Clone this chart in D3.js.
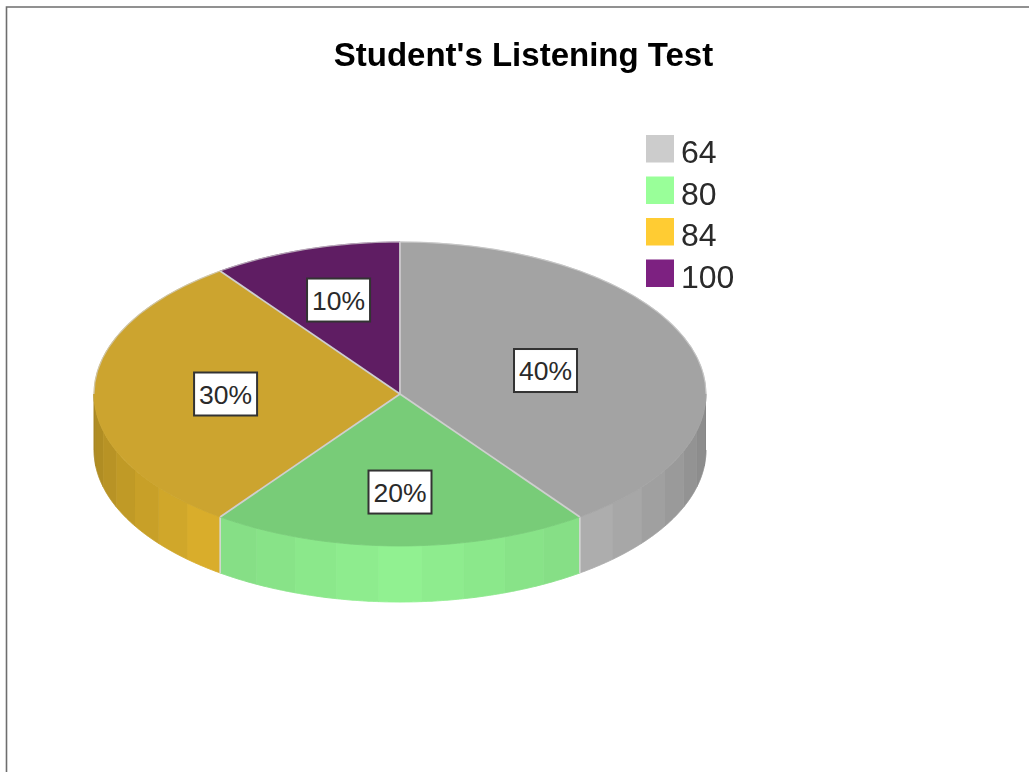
<!DOCTYPE html>
<html><head><meta charset="utf-8">
<script src="https://cdn.jsdelivr.net/npm/d3@7"></script>
<style>html,body{margin:0;padding:0;background:#fff}svg{display:block}text{font-family:"Liberation Sans",Arial,sans-serif}</style>
</head><body><svg id="c" width="1029" height="772"></svg>
<script>
const categories = ["64","80","84","100"];
const shares = [40,20,30,10];
const baseColors = ["#cccccc","#99ff99","#ffcc33","#7d2181"];
const topColors = ["#a3a3a3","#78cc78","#cca42f","#5f1d63"];
const labelRadius = [0.5,0.645,0.57,0.65];
const title = "Student's Listening Test";

const svg = d3.select("#c");
const g = svg.append("g").style("filter","blur(0.5px)");
g.append("path").attr("d","M6.5,772V7H1029").attr("fill","none").attr("stroke","#6e6e6e").attr("stroke-width",1.6);
g.append("text").attr("x",523.5).attr("y",66).attr("text-anchor","middle").attr("font-size",33).attr("font-weight","bold").attr("fill","#000").text(title);

const x = d3.scaleLinear().domain([-1,1]).range([94,706]);
const y = d3.scaleLinear().domain([-1,1]).range([242,546]);
const depth = 56;
const px = a => x(Math.sin(a)), py = a => y(-Math.cos(a));
const line = d3.line();
const arcs = d3.pie().sort(null).value(d=>d)(shares);
const rad = d3.scaleLinear().domain([0,180]).range([0,Math.PI]);
const arcPts = (a0,a1,dy=0) => d3.range(0,41).map(i=>{const a=a0+(a1-a0)*i/40;return [px(a),py(a)+dy];});
const shade = d3.scaleLinear().domain([0,36,90]).range([0.945,0.865,0.65]);

// side facets
const step = 8;
arcs.forEach((d,i)=>{
  const start = d.startAngle*180/Math.PI, end = d.endAngle*180/Math.PI;
  for(let f=Math.ceil(start/step-1e-6)*step; f<end-1e-6; f+=step){
    const a0=Math.max(f,start,90), a1=Math.min(f+step,end,270);
    if(a1<=a0) continue;
    const c=d3.rgb(baseColors[i]), k=shade(Math.abs((a0+a1)/2-180));
    const col=d3.rgb(c.r*k,c.g*k,c.b*k).formatHex();
    g.append("path").attr("d",line(arcPts(rad(a0),rad(a1)).concat(arcPts(rad(a1),rad(a0),depth))))
      .attr("fill",col).attr("stroke",col).attr("stroke-width",1);
  }
});
// dividers on side
[arcs[0].endAngle,arcs[1].endAngle].forEach(a=>{
  g.append("path").attr("d",line([[px(a),py(a)],[px(a),py(a)+depth]])).attr("stroke","#d8d8d8").attr("stroke-width",1.5);
});
// top faces
arcs.forEach((d,i)=>{
  g.append("path").attr("d",line([[x(0),y(0)]].concat(arcPts(d.startAngle,d.endAngle)))+"Z")
   .attr("fill",topColors[i]).attr("stroke",topColors[i]).attr("stroke-width",0.8).attr("stroke-linejoin","round");
});
// faint rim on the back of the pie
g.append("path").attr("d",line(arcPts(-Math.PI*0.5,Math.PI*0.5))).attr("fill","none").attr("stroke","#cfcfcf").attr("stroke-width",1.2).attr("opacity",0.7);
// slice separators
arcs.forEach(d=>{
  g.append("path").attr("d",line([[x(0),y(0)],[px(d.startAngle),py(d.startAngle)]])).attr("stroke","#cfcfcf").attr("stroke-width",1.8);
});
// labels
arcs.forEach((d,i)=>{
  const m=(d.startAngle+d.endAngle)/2, r=labelRadius[i];
  const cx=x(Math.sin(m)*r), cy=y(-Math.cos(m)*r);
  const lg=g.append("g").attr("transform",`translate(${cx},${cy})`);
  lg.append("rect").attr("x",-31.5).attr("y",-21.5).attr("width",63).attr("height",43).attr("fill","#fff").attr("stroke","#333").attr("stroke-width",2);
  lg.append("text").attr("text-anchor","middle").attr("y",9.5).attr("font-size",26.5).attr("fill","#2a2a2a").text(shares[i]+"%");
});
// legend
const ly = d3.scaleBand().domain(categories).range([134,300]);
categories.forEach((c,i)=>{
  g.append("rect").attr("x",646).attr("y",ly(c)+1).attr("width",28).attr("height",27.5).attr("fill",baseColors[i]);
  g.append("text").attr("x",681).attr("y",ly(c)+29).attr("font-size",32).attr("fill","#2a2a2a").text(c);
});
</script></body></html>
